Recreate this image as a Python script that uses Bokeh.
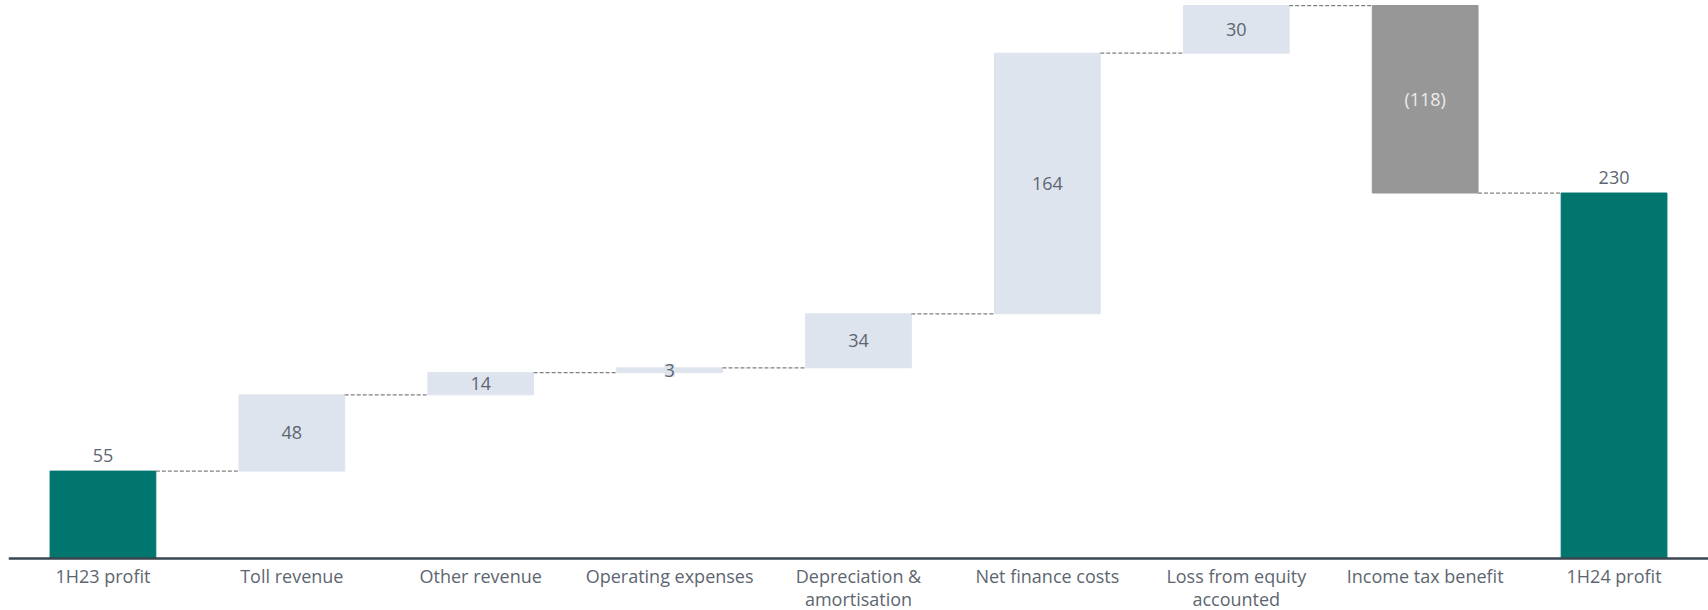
import numpy as np
from bokeh.plotting import figure
from bokeh.models import ColumnDataSource, LabelSet, Range1d, Span
from bokeh.embed import file_html
from bokeh.resources import INLINE
from bokeh.core.properties import value

# ---- data ----
categories = ["1H23 profit", "Toll revenue", "Other revenue", "Operating expenses",
              "Depreciation &\namortisation", "Net finance costs",
              "Loss from equity\naccounted", "Income tax benefit", "1H24 profit"]
changes = [55, 48, 14, 3, 34, 164, 30, -118, 230]
kinds = ["total", "inc", "inc", "inc", "inc", "inc", "inc", "dec", "total"]
value_labels = ["55", "48", "14", "3", "34", "164", "30", "(118)", "230"]

# ---- styles ----
TEAL = "#00766f"
LIGHT = "#dee4ee"
GREY = "#979797"
TEXT = "#5d6670"
FONT = "Open Sans"
colors = {"total": TEAL, "inc": LIGHT, "dec": GREY}

W, H = 1708, 610
LEFT = 8
BASE_PX = 558          # pixel row of the baseline
PX_PER_UNIT = 1.589

# ---- waterfall geometry from data ----
xs, bottoms, tops, fills, ends = [], [], [], [], []
running = 0
for i, (v, k) in enumerate(zip(changes, kinds)):
    xs.append(i + 0.5)
    if k == "total":
        b, t = 0, v
        running = v
    elif v >= 0:
        b, t = running, running + v
        running = running + v
    else:
        b, t = running + v, running
        running = running + v
    bottoms.append(b)
    tops.append(t)
    fills.append(colors[k])
    ends.append(running)

bar_w = 0.56
src = ColumnDataSource(dict(x=xs, bottom=bottoms, top=tops, color=fills))

y0 = -(H - BASE_PX) / PX_PER_UNIT
y1 = BASE_PX / PX_PER_UNIT
p = figure(width=W, height=H, output_backend="svg", toolbar_location=None,
           x_range=Range1d(0, len(categories)), y_range=Range1d(y0, y1),
           min_border_left=LEFT, min_border_right=0, min_border_top=0,
           min_border_bottom=0, outline_line_color=None)
p.background_fill_color = "white"
p.border_fill_color = "white"
p.xaxis.visible = False
p.yaxis.visible = False
p.xgrid.visible = False
p.ygrid.visible = False

p.vbar(x="x", bottom="bottom", top="top", width=bar_w, color="color", source=src)

# connectors
cx0 = [xs[i] + bar_w / 2 for i in range(len(xs) - 1)]
cx1 = [xs[i + 1] - bar_w / 2 for i in range(len(xs) - 1)]
cy = [ends[i] for i in range(len(xs) - 1)]
p.segment(x0=cx0, y0=cy, x1=cx1, y1=cy, line_color="#808080",
          line_width=1.3, line_dash="4 2")

# baseline (category axis line)
p.add_layout(Span(location=0, dimension="width", line_color="#3a4550", line_width=2.5))

# labels inside bars (increments)
inc_idx = [i for i, k in enumerate(kinds) if k == "inc"]
inc_src = ColumnDataSource(dict(
    x=[xs[i] for i in inc_idx],
    y=[(bottoms[i] + tops[i]) / 2 for i in inc_idx],
    t=[value_labels[i] for i in inc_idx]))
p.add_layout(LabelSet(x="x", y="y", text="t", source=inc_src,
                      text_align="center", text_baseline="middle",
                      text_font=value(FONT), text_font_size="18px",
                      text_color=TEXT, background_fill_color=LIGHT))

dec_idx = [i for i, k in enumerate(kinds) if k == "dec"]
dec_src = ColumnDataSource(dict(
    x=[xs[i] for i in dec_idx],
    y=[(bottoms[i] + tops[i]) / 2 for i in dec_idx],
    t=[value_labels[i] for i in dec_idx]))
p.add_layout(LabelSet(x="x", y="y", text="t", source=dec_src,
                      text_align="center", text_baseline="middle",
                      text_font=value(FONT), text_font_size="18px",
                      text_color="#ececec"))

tot_idx = [i for i, k in enumerate(kinds) if k == "total"]
tot_src = ColumnDataSource(dict(
    x=[xs[i] for i in tot_idx],
    y=[tops[i] for i in tot_idx],
    t=[value_labels[i] for i in tot_idx]))
p.add_layout(LabelSet(x="x", y="y", text="t", source=tot_src, y_offset=9,
                      text_align="center", text_baseline="bottom",
                      text_font=value(FONT), text_font_size="18px",
                      text_color=TEXT))

# category labels below the baseline, one LabelSet per text line (centred lines)
lines = [c.split("\n") for c in categories]
max_lines = max(len(l) for l in lines)
LINE_STEP = 23
for li in range(max_lines):
    idx = [i for i, l in enumerate(lines) if len(l) > li]
    line_src = ColumnDataSource(dict(
        x=[xs[i] for i in idx],
        y=[0] * len(idx),
        t=[lines[i][li] for i in idx]))
    p.add_layout(LabelSet(x="x", y="y", text="t", source=line_src,
                          y_offset=-5 - LINE_STEP * li,
                          text_align="center", text_baseline="top",
                          text_font=value(FONT), text_font_size="18px",
                          text_color=TEXT))

open("out.html", "w").write(file_html(p, INLINE))
